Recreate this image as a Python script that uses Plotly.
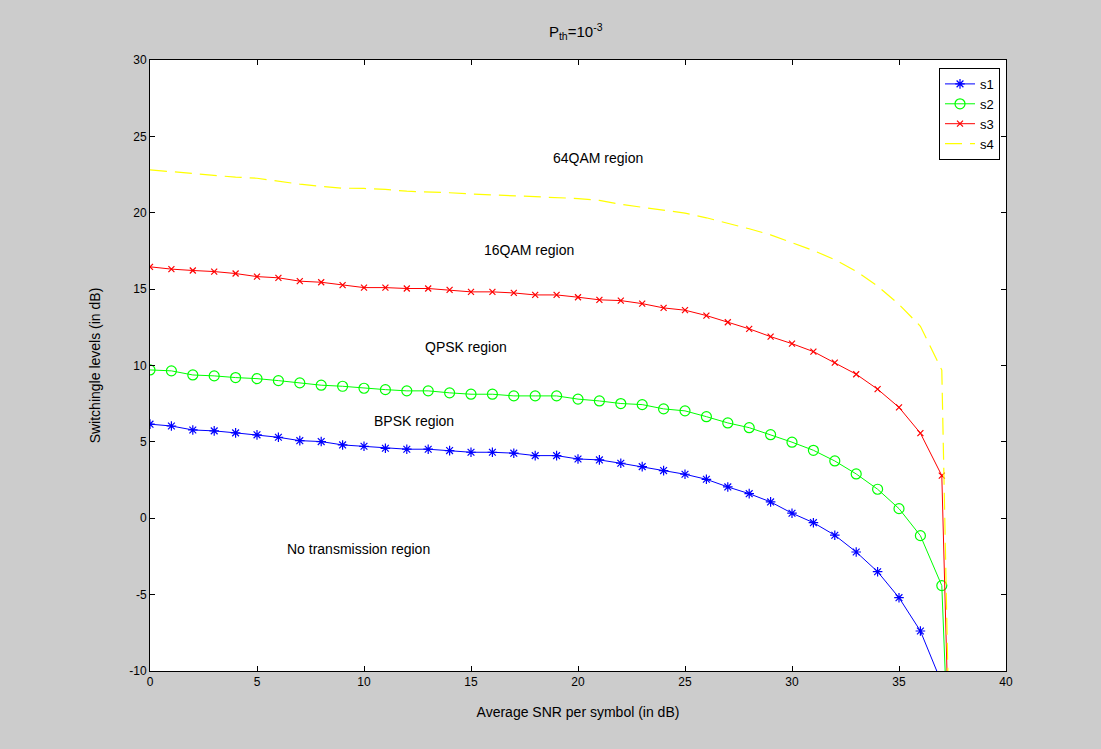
import plotly.graph_objects as go

snr = list(range(0, 38))

s1 = [6.16, 6.04, 5.78, 5.72, 5.59, 5.46, 5.30, 5.08, 5.02, 4.80,
      4.71, 4.58, 4.52, 4.52, 4.43, 4.32, 4.32, 4.26, 4.10, 4.10,
      3.88, 3.82, 3.60, 3.38, 3.12, 2.88, 2.55, 2.05, 1.61, 1.07,
      0.33, -0.29, -1.11, -2.21, -3.50, -5.20, -7.38, -10.8]
s2 = [9.71, 9.65, 9.38, 9.32, 9.21, 9.14, 9.01, 8.86, 8.71, 8.64,
      8.51, 8.42, 8.34, 8.34, 8.21, 8.12, 8.12, 8.01, 8.01, 8.01,
      7.80, 7.68, 7.51, 7.44, 7.16, 7.03, 6.65, 6.24, 5.93, 5.47,
      4.98, 4.45, 3.75, 2.90, 1.90, 0.63, -1.14, -4.41, -40.0]
s3 = [16.46, 16.31, 16.22, 16.15, 16.02, 15.82, 15.74, 15.52, 15.45, 15.26,
      15.10, 15.10, 15.04, 15.04, 14.95, 14.82, 14.82, 14.75, 14.62, 14.62,
      14.47, 14.30, 14.25, 14.05, 13.77, 13.62, 13.27, 12.83, 12.40, 11.89,
      11.43, 10.91, 10.19, 9.43, 8.45, 7.26, 5.57, 2.79, -50.0]
s4 = [22.81, 22.68, 22.55, 22.42, 22.33, 22.26, 22.05, 21.87, 21.73, 21.61,
      21.59, 21.53, 21.41, 21.37, 21.31, 21.23, 21.18, 21.13, 21.06, 20.99,
      20.93, 20.81, 20.55, 20.36, 20.18, 19.98, 19.67, 19.33, 18.95, 18.55,
      18.03, 17.53, 16.93, 16.17, 15.20, 14.00, 12.57, 9.70, -60.0]
snr_ext = list(range(0, 39))

region_labels = ["64QAM region", "16QAM region", "QPSK region", "BPSK region", "No transmission region"]
region_x = [20.95, 17.71, 14.78, 12.33, 9.73]
region_y = [23.6, 17.57, 11.24, 6.37, -2.01]

x_ticks = [0, 5, 10, 15, 20, 25, 30, 35, 40]
y_ticks = [-10, -5, 0, 5, 10, 15, 20, 25, 30]
y_tick_text = ["-10", "-5", "0", "5", "10", "15", "20", "25", "30"]

FONT = "Liberation Sans, Arial, Helvetica, sans-serif"

fig = go.Figure()
fig.add_trace(go.Scatter(x=snr, y=s1, name="s1", mode="lines+markers",
                         line=dict(color="#0000ff", width=1),
                         marker=dict(symbol="asterisk-open", size=8,
                                     line=dict(color="#0000ff", width=1.2))))
fig.add_trace(go.Scatter(x=snr_ext, y=s2, name="s2", mode="lines+markers",
                         line=dict(color="#00ff00", width=1),
                         marker=dict(symbol="circle-open", size=10,
                                     line=dict(color="#00ff00", width=1.2))))
fig.add_trace(go.Scatter(x=snr_ext, y=s3, name="s3", mode="lines+markers",
                         line=dict(color="#ff0000", width=1),
                         marker=dict(symbol="x-thin-open", size=6,
                                     line=dict(color="#ff0000", width=1.2))))
fig.add_trace(go.Scatter(x=snr_ext, y=s4, name="s4", mode="lines",
                         line=dict(color="#ffff00", width=1.2, dash="17px,8px")))

for t, x, y in zip(region_labels, region_x, region_y):
    fig.add_annotation(x=x, y=y, text=t, showarrow=False,
                       font=dict(family=FONT, size=14, color="black"),
                       xanchor="center", yanchor="middle")

axis_common = dict(showline=True, linecolor="black", linewidth=1, mirror="ticks",
                   ticks="inside", ticklen=5, tickcolor="black", showgrid=False,
                   zeroline=False, tickfont=dict(family=FONT, size=12, color="black"))

fig.update_layout(
    width=1101, height=749,
    paper_bgcolor="#cccccc", plot_bgcolor="white",
    margin=dict(l=150, r=95, t=60, b=78),
    font=dict(family=FONT, size=12, color="black"),
    title=dict(text="P<sub>th</sub>=10<sup>-3</sup>", x=0.5229, xanchor="center",
               y=1 - 32 / 749, yanchor="middle", yref="container",
               font=dict(family=FONT, size=15, color="black")),
    xaxis=dict(range=[0, 40], tickvals=x_ticks,
               title=dict(text="Average SNR per symbol (in dB)", standoff=18,
                          font=dict(family=FONT, size=14)), **axis_common),
    yaxis=dict(range=[-10, 30], tickvals=y_ticks, ticktext=y_tick_text,
               title=dict(text="Switchingle levels (in dB)", standoff=25,
                          font=dict(family=FONT, size=14)), **axis_common),
    legend=dict(x=0.993, y=0.987, xanchor="right", yanchor="top",
                bgcolor="white", bordercolor="black", borderwidth=1,
                font=dict(family=FONT, size=13), tracegroupgap=0,
                itemwidth=30),
    showlegend=True,
)

fig.write_html("out.html")
